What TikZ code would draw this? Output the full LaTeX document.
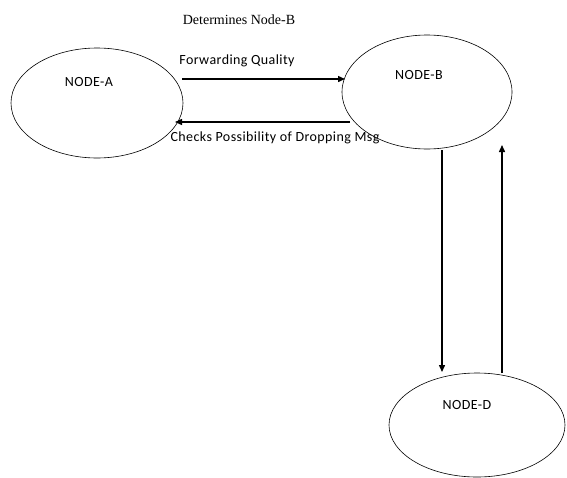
\documentclass[tikz,border=0pt]{standalone}
\usepackage{fontspec}
\setmainfont{Carlito}[LetterSpace=3]
\newfontfamily\serifff{Liberation Serif}
\usetikzlibrary{arrows.meta}
\tikzset{
  ell/.style={draw, line width=0.6pt},
  lbl/.style={font=\fontsize{14}{16}\selectfont, inner sep=0pt},
  conn/.style={line width=1.4pt, -{Triangle[length=7pt,width=6pt]}}
}
\begin{document}
\begin{tikzpicture}[x=1pt,y=-1pt]
\useasboundingbox (0,0) rectangle (567,477);
\draw[ell] (97,103) ellipse [x radius=86, y radius=55];
\draw[ell] (427,92) ellipse [x radius=85, y radius=57];
\draw[ell] (477,425) ellipse [x radius=88, y radius=52];
\node[lbl] (la) at (89,82) {NODE-A};
\node[lbl] (lb) at (419,75) {NODE-B};
\node[lbl] (ld) at (467,405) {NODE-D};
\node[inner sep=0pt, font=\serifff\fontsize{14}{16}\selectfont] (det) at (239,20) {Determines Node-B};
\node[lbl] (fq) at (237,61) {Forwarding Quality};
\node[lbl] (cp) at (275,138) {Checks Possibility of Dropping Msg};
\coordinate (a1) at (182,79);
\coordinate (b1) at (345,79);
\coordinate (b2) at (350,122);
\coordinate (a2) at (175,122);
\coordinate (b3) at (442,150);
\coordinate (d3) at (442,372);
\coordinate (d4) at (502,373);
\coordinate (b4) at (502,145);
\draw[conn] (a1) -- (b1);
\draw[conn] (b2) -- (a2);
\draw[conn] (b3) -- (d3);
\draw[conn] (d4) -- (b4);
\end{tikzpicture}
\end{document}
